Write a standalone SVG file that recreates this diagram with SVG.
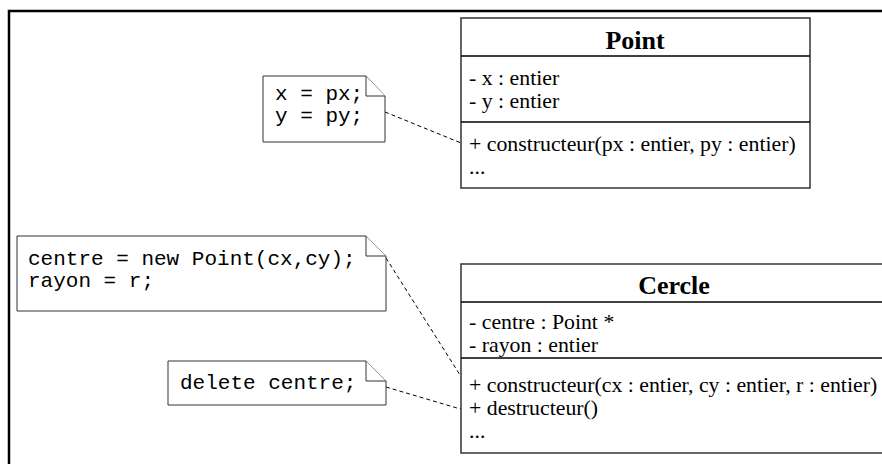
<svg xmlns="http://www.w3.org/2000/svg" width="882" height="464" viewBox="0 0 882 464">
<style>
.frame{fill:none;stroke:#000;stroke-width:2.5}
.box{fill:#fff;stroke:#333;stroke-width:1.5}
.sep{stroke:#000;stroke-width:1.5}
.note{fill:#fff;stroke:#333;stroke-width:1}
.title{font-family:"Liberation Serif",serif;font-weight:bold;font-size:26px;text-anchor:middle;fill:#000}
.mem{font-family:"Liberation Serif",serif;font-size:21.8px;fill:#000}
.code{font-family:"Liberation Mono",monospace;font-size:21px;fill:#000}
.dash{fill:none;stroke:#000;stroke-width:1;stroke-dasharray:4,3}
</style>
<rect x="0" y="0" width="882" height="464" fill="#fff"/>
<rect class="frame" x="9" y="11" width="900" height="480"/>
<g id="connectors">
<line class="dash" x1="385" y1="112" x2="466" y2="145"/>
<line class="dash" x1="386" y1="258" x2="467" y2="386"/>
<line class="dash" x1="386" y1="387" x2="467" y2="411"/>
</g>
<g id="point">
<rect class="box" x="461" y="18" width="349" height="170"/>
<line class="sep" x1="461" y1="56" x2="810" y2="56"/>
<line class="sep" x1="461" y1="122" x2="810" y2="122"/>
<text class="title" x="635" y="49">Point</text>
<text class="mem" x="469" y="85">- x : entier</text>
<text class="mem" x="469" y="108">- y : entier</text>
<text class="mem" x="469" y="151">+ constructeur(px : entier, py : entier)</text>
<text class="mem" x="469" y="174">...</text>
</g>
<g id="cercle">
<rect class="box" x="461" y="264" width="428" height="189"/>
<line class="sep" x1="461" y1="302" x2="889" y2="302"/>
<line class="sep" x1="461" y1="358" x2="889" y2="358"/>
<text class="title" x="674" y="294">Cercle</text>
<text class="mem" x="469" y="329">- centre : Point *</text>
<text class="mem" x="469" y="352">- rayon : entier</text>
<text class="mem" x="469" y="392">+ constructeur(cx : entier, cy : entier, r : entier)</text>
<text class="mem" x="469" y="415">+ destructeur()</text>
<text class="mem" x="469" y="438">...</text>
</g>
<g id="note1">
<path class="note" d="M263,76 H366 L385,96 V142 H263 Z"/>
<path class="note" d="M366,76 V96 H385"/>
<text class="code" x="275" y="100">x = px;</text>
<text class="code" x="275" y="122">y = py;</text>
</g>
<g id="note2">
<path class="note" d="M17,236 H366 L386,256 V311 H17 Z"/>
<path class="note" d="M366,236 V256 H386"/>
<text class="code" x="28" y="265">centre = new Point(cx,cy);</text>
<text class="code" x="28" y="287">rayon = r;</text>
</g>
<g id="note3">
<path class="note" d="M168,361 H366 L386,381 V405 H168 Z"/>
<path class="note" d="M366,361 V381 H386"/>
<text class="code" x="180" y="389">delete centre;</text>
</g>
</svg>
